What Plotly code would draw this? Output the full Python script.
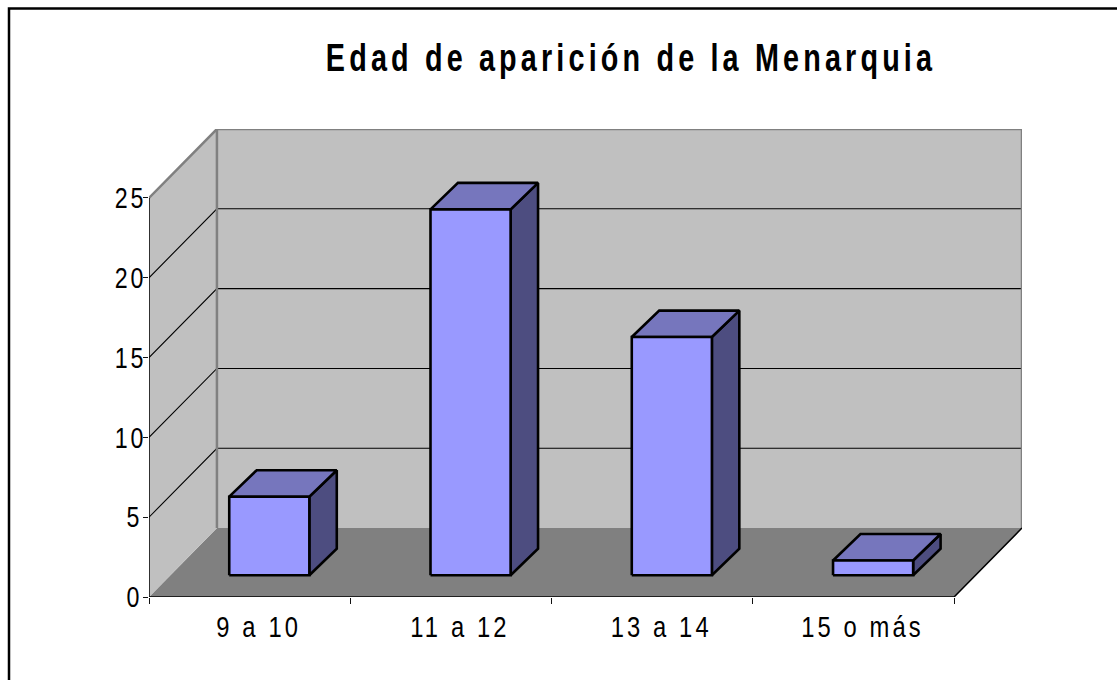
import plotly.graph_objects as go

# --- data -----------------------------------------------------------
categories = ["9 a 10", "11 a 12", "13 a 14", "15 o más"]
values = [5, 23, 15, 1]
y_ticks = [0, 5, 10, 15, 20, 25]
title_text = "Edad de aparición de la Menarquia"

# --- oblique projection, in axis units ------------------------------
DEPTH_X = 0.3375      # categories shifted at the back wall
DEPTH_Y = 4.32        # value units shifted at the back wall
BAR_FRONT = 0.316                   # bar front plane in the depth
BAR_BACK_X, BAR_BACK_Y = 0.72, 0.70 # bar back plane in the depth
BAR_START, BAR_END = 0.292, 0.69    # bar span inside a category
BAR_TOP_INSET = 0.08
LABEL_POS = 0.545
YMAX = y_ticks[-1]
N = len(categories)

FACE, TOP, SIDE = "#9999FF", "#7676BD", "#4D4D80"
WALL, FLOOR, EDGE = "#C0C0C0", "#808080", "#808080"


def pt(c, v, d=0.0, dy=None):
    return c + d * DEPTH_X, v + (d if dy is None else dy) * DEPTH_Y


def poly(points, fill=None, color="black", width=1.0, close=True):
    pts = list(points) + ([points[0]] if close else [])
    xs = [p[0] for p in pts]
    ys = [p[1] for p in pts]
    return go.Scatter(
        x=xs, y=ys, mode="lines",
        fill="toself" if fill else "none",
        fillcolor=fill,
        line=dict(color=color, width=width) if width else dict(width=0),
        hoverinfo="skip", showlegend=False, cliponaxis=False,
    )


fig = go.Figure()

# floor, side wall, back wall
fig.add_trace(poly([pt(0, 0), pt(N, 0), pt(N, 0, 1), pt(0, 0, 1)], FLOOR, width=0))
fig.add_trace(poly([pt(0, 0), pt(0, YMAX), pt(0, YMAX, 1), pt(0, 0, 1)], WALL, width=0))
fig.add_trace(poly([pt(0, 0, 1), pt(0, YMAX, 1), pt(N, YMAX, 1), pt(N, 0, 1)], WALL, width=0))

# grid lines
for t in y_ticks[1:-1]:
    fig.add_trace(poly([pt(0, t), pt(0, t, 1), pt(N, t, 1)], color="#000000", width=1.1, close=False))

# wall edges
fig.add_trace(poly([pt(0, YMAX), pt(0, YMAX, 1), pt(N, YMAX, 1), pt(N, 0, 1)],
                   color=EDGE, width=2.5, close=False))
fig.add_trace(poly([pt(0, YMAX, 1), pt(0, 0, 1)], color=EDGE, width=2.5, close=False))

# axis lines
fig.add_trace(poly([pt(0, YMAX), pt(0, 0), pt(N, 0), pt(N, 0, 1)], color="#000000", width=1.5, close=False))

# bars
for i, v in enumerate(values):
    l, r = i + BAR_START, i + BAR_END
    h = v - BAR_TOP_INSET
    fp, bx, by = BAR_FRONT, BAR_BACK_X, BAR_BACK_Y
    fig.add_trace(poly([pt(r, 0, fp), pt(r, h, fp), pt(r, h, bx, by), pt(r, 0, bx, by)], SIDE, width=2.6))
    fig.add_trace(poly([pt(l, h, fp), pt(r, h, fp), pt(r, h, bx, by), pt(l, h, bx, by)], TOP, width=2.6))
    fig.add_trace(poly([pt(l, 0, fp), pt(r, 0, fp), pt(r, h, fp), pt(l, h, fp)], FACE, width=2.6))

W, H = 1117, 680
ML, MR, MT, MB = 149, 95, 129, 83
PW, PH = W - ML - MR, H - MT - MB


def px(v):
    return (v - ML) / PW


def py(v):
    return 1 - (v - MT) / PH


font_family = "'Liberation Sans', Arial, sans-serif"

fig.update_layout(
    width=W, height=H,
    margin=dict(l=ML, r=MR, t=MT, b=MB, pad=0),
    paper_bgcolor="white", plot_bgcolor="white",
    showlegend=False,
    hovermode=False,
    title=dict(
        text=title_text, xref="container", yref="container",
        x=631 / W, y=1 - 58 / H, xanchor="center", yanchor="middle",
        font=dict(family=font_family, size=38, color="black", weight="bold"),
    ),
    xaxis=dict(
        range=[0, N + DEPTH_X], showgrid=False, zeroline=False, showline=False,
        tickmode="array",
        tickvals=[i + LABEL_POS for i in range(N)], ticktext=categories,
        ticks="", ticklen=0, ticklabelstandoff=10,
        tickfont=dict(family=font_family, size=29, color="black"),
        minor=dict(tickmode="array", tickvals=list(range(N + 1)), ticks="outside",
                   ticklen=6, tickwidth=1, tickcolor="#111111", showgrid=False),
    ),
    yaxis=dict(
        range=[0, YMAX + DEPTH_Y], showgrid=False, zeroline=False, showline=False,
        tickmode="array", tickvals=y_ticks, ticktext=[str(t) for t in y_ticks],
        ticks="outside", ticklen=5, tickwidth=1, tickcolor="#111111",
        tickfont=dict(family=font_family, size=29, color="black"),
    ),
    shapes=[dict(
        type="path", xref="paper", yref="paper",
        path=f"M {px(9)} {py(682)} L {px(9)} {py(8.5)} L {px(1119)} {py(8.5)}",
        line=dict(color="black", width=2.5), layer="above",
    )],
)

post = """
document.body.style.margin = '0';
document.body.style.overflow = 'hidden';
function squeeze(el, sx, spacing, anchor, dx) {
  el.style.letterSpacing = spacing + 'px';
  var b = el.getBBox();
  var a = anchor === 'right' ? b.x + b.width : b.x + b.width / 2;
  var orig = el.getAttribute('transform') || '';
  el.setAttribute('transform', orig + ' translate(' + (a + dx) + ',0) scale(' + sx + ',1) translate(' + (-a) + ',0)');
}
document.querySelectorAll('.gtitle').forEach(e => squeeze(e, 0.757, 5.5, 'center', 0));
document.querySelectorAll('.xtick text').forEach(e => squeeze(e, 0.82, 3.8, 'center', 0));
document.querySelectorAll('.ytick text').forEach(e => squeeze(e, 0.80, 3.5, 'right', e.textContent.length === 1 ? 5 : 9));
"""

fig.write_html("out.html", post_script=post, config={"displayModeBar": False})
